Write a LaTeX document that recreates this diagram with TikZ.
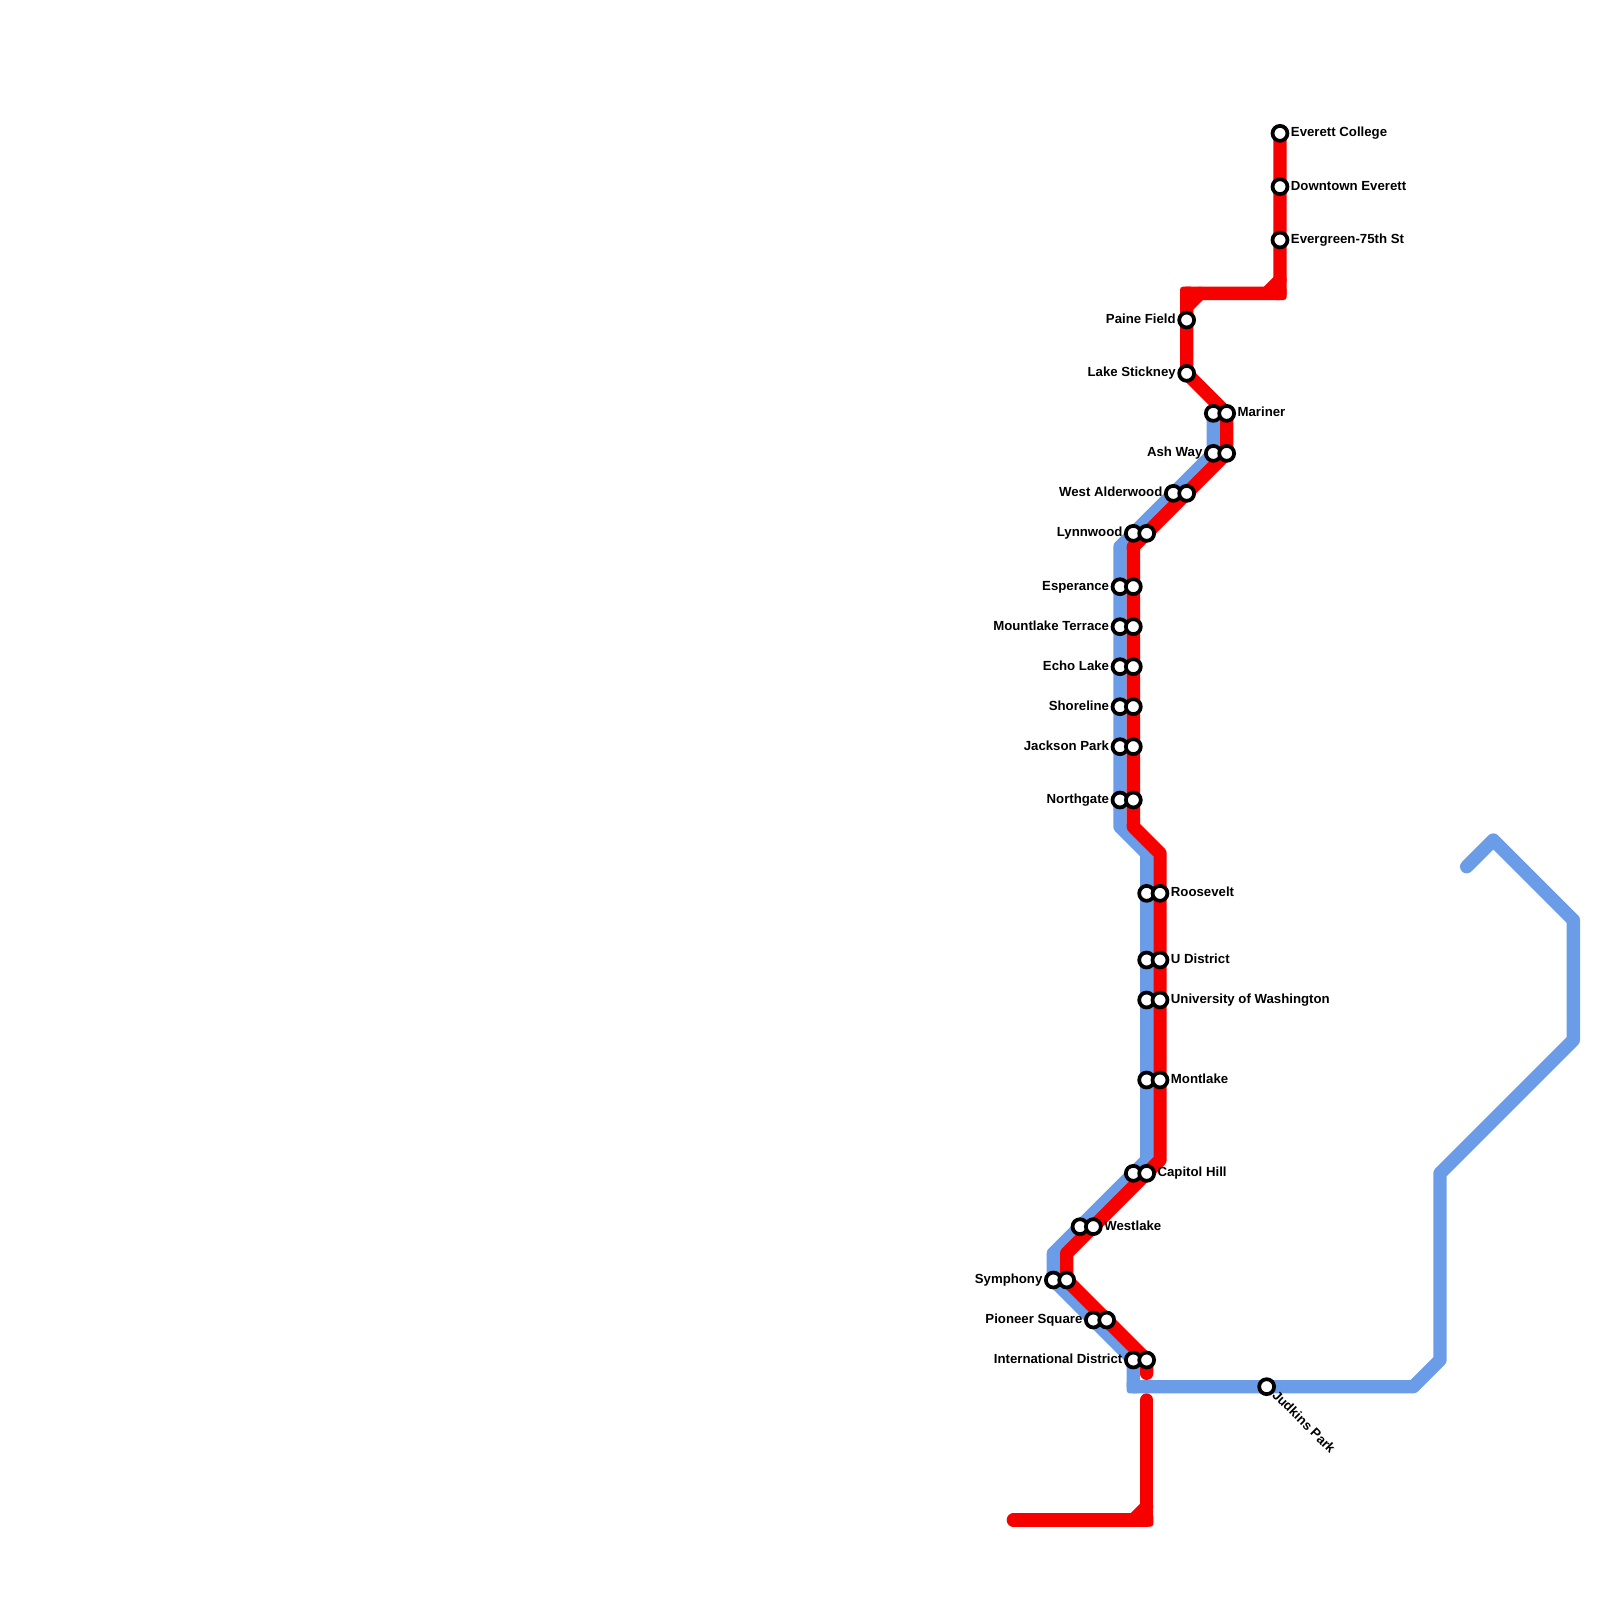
\documentclass[tikz,border=0pt]{standalone}
\usepackage{fontspec}
\setmainfont{Liberation Sans}
\pgfdeclarelayer{lines}
\pgfsetlayers{lines,main}
\definecolor{redline}{HTML}{F70000}
\definecolor{blueline}{HTML}{6A9CE8}
\tikzset{
  route/.style={line width=1mm,line cap=round,line join=round},
  redroute/.style={route,draw=redline},
  blueroute/.style={route,draw=blueline},
  redcorner/.style={fill=redline,rounded corners=0.22mm},
  bluecorner/.style={fill=blueline,rounded corners=0.22mm},
  stop/.style={circle,draw=black,fill=white,line width=0.28mm,minimum size=1.12mm,inner sep=0pt},
  lab/.style={font=\bfseries\fontsize{2.82pt}{3.2pt}\selectfont,inner sep=0pt,text=black},
  labr/.style={lab,anchor=base west,xshift=0.75mm,yshift=-0.25mm},
  labl/.style={lab,anchor=base east,xshift=-0.75mm,yshift=-0.25mm}
}
\newcommand{\stopR}[4]{\node[stop] (#1) at (#2,#3) {}; \node[labr] (lab#1) at (#1.center) {#4};}
\newcommand{\stopL}[4]{\node[stop] (#1) at (#2,#3) {}; \node[labl] (lab#1) at (#1.center) {#4};}
\newcommand{\stopN}[3]{\node[stop] (#1) at (#2,#3) {};}
\newcommand{\cornerbox}[2]{\path[#1] ([shift={(-.5,-.5)}]#2) rectangle ([shift={(.5,.5)}]#2);}
\begin{document}
\begin{tikzpicture}[x=1mm,y=-1mm]
\useasboundingbox (0,0) rectangle (120,120);
% red-line stations
\stopR{ec}{96}{10}{Everett College}
\stopR{de}{96}{14}{Downtown Everett}
\stopR{eg}{96}{18}{Evergreen-75th St}
\stopL{pf}{89}{24}{Paine Field}
\stopL{ls}{89}{28}{Lake Stickney}
% paired stations: b = blue, r = red
\stopN{marb}{91}{31}\stopR{marr}{92}{31}{Mariner}
\stopL{ashb}{91}{34}{Ash Way}\stopN{ashr}{92}{34}
\stopL{wab}{88}{37}{West Alderwood}\stopN{war}{89}{37}
\stopL{lynb}{85}{40}{Lynnwood}\stopN{lynr}{86}{40}
\stopL{espb}{84}{44}{Esperance}\stopN{espr}{85}{44}
\stopL{mltb}{84}{47}{Mountlake Terrace}\stopN{mltr}{85}{47}
\stopL{ecb}{84}{50}{Echo Lake}\stopN{ecr}{85}{50}
\stopL{shb}{84}{53}{Shoreline}\stopN{shr}{85}{53}
\stopL{jpb}{84}{56}{Jackson Park}\stopN{jpr}{85}{56}
\stopL{ngb}{84}{60}{Northgate}\stopN{ngr}{85}{60}
\stopN{rvb}{86}{67}\stopR{rvr}{87}{67}{Roosevelt}
\stopN{udb}{86}{72}\stopR{udr}{87}{72}{U District}
\stopN{uwb}{86}{75}\stopR{uwr}{87}{75}{University of Washington}
\stopN{mkb}{86}{81}\stopR{mkr}{87}{81}{Montlake}
\stopN{chb}{85}{88}\stopR{chr}{86}{88}{Capitol Hill}
\stopN{wlb}{81}{92}\stopR{wlr}{82}{92}{Westlake}
\stopL{syb}{79}{96}{Symphony}\stopN{syr}{80}{96}
\stopL{psb}{82}{99}{Pioneer Square}\stopN{psr}{83}{99}
\stopL{idb}{85}{102}{International District}\stopN{idr}{86}{102}
\stopN{jk}{95}{104}
\node[lab,rotate=-45,anchor=base west] (labjk) at ([shift={(0.33,0.65)}]jk.center) {Judkins Park};
% bends
\coordinate (b1) at (110,65); \coordinate (b2) at (112,63); \coordinate (b3) at (118,69);
\coordinate (b4) at (118,78); \coordinate (b5) at (108,88); \coordinate (b6) at (108,102);
\coordinate (b7) at (106,104); \coordinate (b8) at (85,104); \coordinate (b9) at (79,94);
\coordinate (b10) at (86,87); \coordinate (b11) at (86,64); \coordinate (b12) at (84,62);
\coordinate (b13) at (84,41);
\coordinate (r1) at (96,22); \coordinate (r2) at (89,22); \coordinate (r3) at (92,31);
\coordinate (r4) at (85,41); \coordinate (r5) at (85,62); \coordinate (r6) at (87,64);
\coordinate (r7) at (87,87); \coordinate (r8) at (80,94); \coordinate (r9) at (86,103);
\coordinate (r10) at (86,105); \coordinate (r11) at (86,114); \coordinate (r12) at (76,114);
\coordinate (n1) at (96,21); \coordinate (n2) at (95,22); \coordinate (n3) at (89,23); \coordinate (n4) at (90,22);
\coordinate (n5) at (86,113); \coordinate (n6) at (85,114);
\begin{pgfonlayer}{lines}
\draw[blueroute] (b1) -- (b2) -- (b3) -- (b4) -- (b5) -- (b6) -- (b7) -- (jk.center) -- (b8) -- (idb.center) -- (psb.center) -- (syb.center) -- (b9) -- (wlb.center) -- (chb.center) -- (b10) -- (b11) -- (b12) -- (b13) -- (lynb.center) -- (wab.center) -- (ashb.center) -- (marb.center);
\cornerbox{bluecorner}{b8}
\draw[redroute] (ec.center) -- (de.center) -- (eg.center) -- (r1) -- (r2) -- (pf.center) -- (ls.center) -- (r3) -- (ashr.center) -- (lynr.center) -- (r4) -- (r5) -- (r6) -- (r7) -- (chr.center) -- (r8) -- (syr.center) -- (idr.center) -- (r9);
\draw[redroute] (r10) -- (r11) -- (r12);
\draw[redroute] (n1) -- (n2);
\draw[redroute] (n3) -- (n4);
\draw[redroute] (n5) -- (n6);
\cornerbox{redcorner}{r1}
\cornerbox{redcorner}{r2}
\cornerbox{redcorner}{r11}
\end{pgfonlayer}
\end{tikzpicture}
\end{document}
